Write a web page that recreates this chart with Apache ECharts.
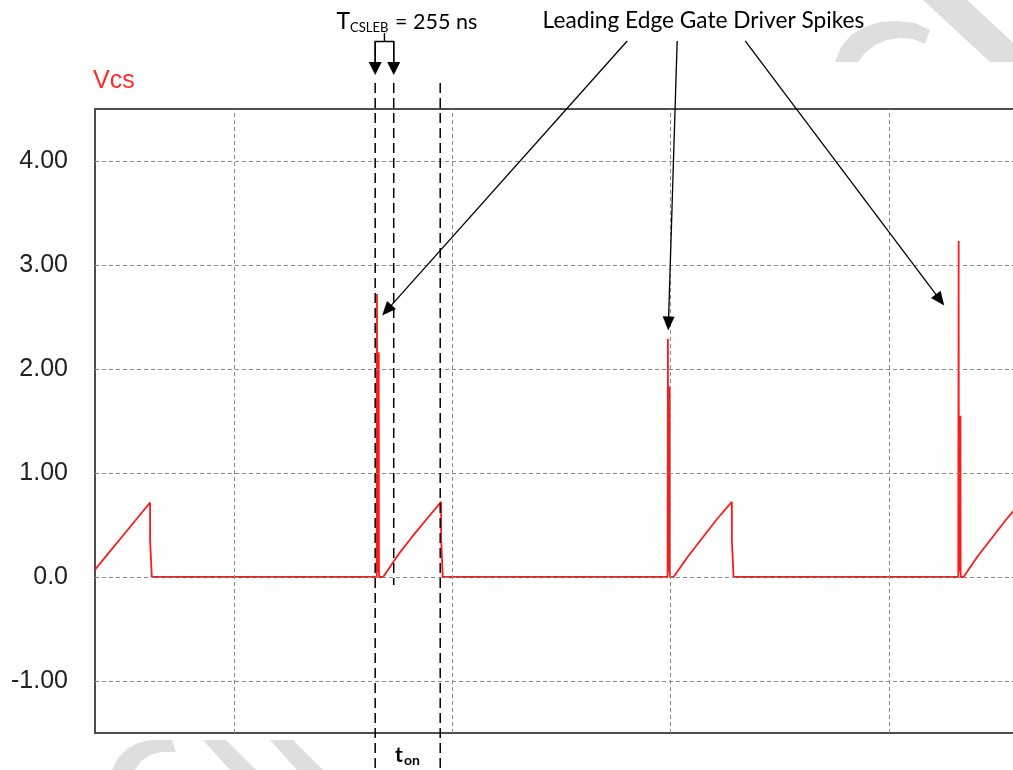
<!DOCTYPE html>
<html>
<head>
<meta charset="utf-8">
<title>Vcs leading edge blanking</title>
<script src="https://cdn.jsdelivr.net/npm/echarts@6/dist/echarts.min.js"></script>
<style>
  html, body { margin: 0; padding: 0; background: #fff; }
  #chart { width: 1013px; height: 770px; }
</style>
</head>
<body>
<div id="chart"></div>
<script>
// Current-sense voltage Vcs, time in µs (3 µs per grid division, 4 µs switching period)

// Cycle entering from the left edge: end of the current ramp and turn-off
const cycle0Time = [-1.913, -1.75, -1.55, -1.35, -1.156, -1.156, -1.132, -1.132];
const cycle0Vcs  = [0.07, 0.21, 0.38, 0.55, 0.715, 0.355, 0.355, 0];

// Cycle 1: gate-drive spike at turn-on, then the ramp over t_on
const cycle1Time = [1.960, 1.963, 1.966, 1.969, 1.972, 1.975, 1.978, 1.981, 1.984, 1.987, 1.990, 1.993,
                    2.048, 2.25, 2.45, 2.65, 2.845, 2.845, 2.867, 2.867];
const cycle1Vcs  = [0, 2.72, 0.05, 2.16, 0.05, 2.16, 0.05, 2.16, 0.05, 2.16, 0.05, 0,
                    0, 0.21, 0.39, 0.56, 0.723, 0.355, 0.355, 0];

// Cycle 2
const cycle2Time = [5.958, 5.962, 5.965, 5.968, 5.971, 5.974, 5.977, 5.980, 5.983, 5.986, 5.989, 5.992,
                    6.039, 6.24, 6.44, 6.64, 6.841, 6.841, 6.864, 6.864];
const cycle2Vcs  = [0, 2.29, 0.05, 1.83, 0.05, 1.83, 0.05, 1.83, 0.05, 1.83, 0.05, 0,
                    0, 0.20, 0.38, 0.56, 0.723, 0.355, 0.355, 0];

// Cycle 3, running off the right edge
const cycle3Time = [9.953, 9.958, 9.961, 9.964, 9.967, 9.970, 9.973, 9.976, 9.979, 9.982, 9.985, 9.988,
                    10.025, 10.22, 10.42, 10.62, 10.82, 10.98];
const cycle3Vcs  = [0, 3.23, 0.05, 1.55, 0.05, 1.55, 0.05, 1.55, 0.05, 1.55, 0.05, 0,
                    0, 0.20, 0.38, 0.56, 0.72, 0.83];

// Axis ticks
const yTickValues = [-1, 0, 1, 2, 3, 4];
const yTickLabels = ['-1.00', '0.0', '1.00', '2.00', '3.00', '4.00'];
const xGridTimes  = [0, 3, 6, 9];
const timeRange   = [-1.913, 10.98];
const vcsRange    = [-1.5, 4.5];

// Timing markers (µs)
const tBlankStart = 1.938;          // start of the blanking window / t_on
const tBlankEnd   = 1.938 + 0.255;  // T_CSLEB = 255 ns
const tOnEnd      = 2.832;

const trace = [];
[[cycle0Time, cycle0Vcs], [cycle1Time, cycle1Vcs], [cycle2Time, cycle2Vcs], [cycle3Time, cycle3Vcs]]
  .forEach(([ts, vs]) => ts.forEach((t, i) => trace.push([t, vs[i]])));

const labelFor = v => {
  const k = yTickValues.findIndex(t => Math.abs(t - v) < 1e-9);
  return k >= 0 ? yTickLabels[k] : '';
};

const dashedMarker = (x, yTop, yBottom) => ({
  type: 'line',
  data: [[x, yTop], [x, yBottom]],
  clip: false,
  showSymbol: false,
  symbol: 'none',
  silent: true,
  z: 6,
  lineStyle: { color: '#000', width: 1.5, type: [10, 5] },
  animation: false
});

const chart = echarts.init(document.getElementById('chart'), null, { renderer: 'canvas' });

const option = {
  animation: false,
  backgroundColor: '#fff',
  grid: {
    left: 95, right: -20, top: 109, bottom: 37,
    outerBoundsMode: 'none',
    show: true, backgroundColor: '#fff',
    borderColor: '#4d4d4d', borderWidth: 2
  },
  xAxis: {
    type: 'value', min: timeRange[0], max: timeRange[1],
    show: false
  },
  yAxis: {
    type: 'value', min: vcsRange[0], max: vcsRange[1], interval: 0.5,
    axisLine: { show: false },
    axisTick: { show: false },
    splitLine: { show: false },
    axisLabel: {
      margin: 27, fontSize: 25, color: '#222', fontFamily: 'Liberation Sans',
      formatter: v => labelFor(v)
    }
  },
  series: [
    {
      // dotted reference grid
      type: 'line', data: [], z: 1, silent: true, animation: false,
      markLine: {
        silent: true, symbol: 'none', animation: false,
        label: { show: false },
        lineStyle: { color: '#8a8a8a', width: 1, type: [4, 3] },
        data: [
          ...xGridTimes.map(t => ({ xAxis: t })),
          ...yTickValues.map(v => ({ yAxis: v }))
        ]
      }
    },
    {
      name: 'Vcs', type: 'line', data: trace, z: 3,
      showSymbol: false, symbol: 'none', animation: false,
      lineStyle: { color: '#ff1a1a', width: 1.8 }
    },
    dashedMarker(tBlankStart, 4.75, -1.95),
    dashedMarker(tBlankEnd, 4.75, -0.077),
    dashedMarker(tOnEnd, 4.75, -1.95)
  ]
};
chart.setOption(option);

// ---- annotations -------------------------------------------------------
const P = (x, y) => chart.convertToPixel({ gridIndex: 0 }, [x, y]);
const INK = '#000';
const LABEL_FONT = 'Lato, "Open Sans", sans-serif';

function arrow(s, t, head, half, width) {
  const dx = t[0] - s[0], dy = t[1] - s[1];
  const L = Math.hypot(dx, dy), ux = dx / L, uy = dy / L;
  const bx = t[0] - ux * head, by = t[1] - uy * head;
  return [
    { type: 'line', z: 20, silent: true,
      shape: { x1: s[0], y1: s[1], x2: bx + ux * 2, y2: by + uy * 2 },
      style: { stroke: INK, lineWidth: width } },
    { type: 'polygon', z: 20, silent: true,
      shape: { points: [t, [bx - uy * half, by + ux * half], [bx + uy * half, by - ux * half]] },
      style: { fill: INK } }
  ];
}

// spike call-outs: from under the caption down to each spike (data units)
const calloutFrom = [[5.402, 5.154], [6.089, 5.154], [7.024, 5.154]];
const calloutTo   = [[2.034, 2.514], [5.966, 2.37], [9.76, 2.61]];

const elements = [];

// light watermark strokes showing around the plot
const wm = { fill: '#dedede' };
[
  [[923, 0], [967, 0], [1034, 62], [990, 62]],
  [[835, 62], [841, 47], [851, 35], [865, 27], [880, 22], [897, 21], [915, 23], [930, 30],
   [925, 44], [913, 39], [900, 38], [887, 40], [875, 45], [865, 53], [858, 62]],
  [[112, 770], [118, 758], [127, 749], [138, 743], [150, 740], [172, 740],
   [176, 752], [162, 752], [150, 755], [141, 761], [135, 770]],
  [[203, 740], [226, 740], [256, 770], [230, 770]],
  [[270, 740], [293, 740], [323, 770], [297, 770]]
].forEach(pts => elements.push({ type: 'polygon', z: -5, silent: true, shape: { points: pts }, style: wm }));

calloutFrom.forEach((f, i) => {
  elements.push(...arrow(P(f[0], f[1]), P(calloutTo[i][0], calloutTo[i][1]), 14, 6, 1.3));
});

// T_CSLEB bracket over the blanking window
const xb1 = P(tBlankStart, 0)[0], xb2 = P(tBlankEnd, 0)[0], xm = (xb1 + xb2) / 2;
elements.push(
  { type: 'polyline', z: 20, silent: true, shape: { points: [[xm, 33], [xm, 41.5]] }, style: { stroke: INK, lineWidth: 1.4, fill: null } },
  { type: 'polyline', z: 20, silent: true, shape: { points: [[xb1, 63], [xb1, 41.5], [xb2, 41.5], [xb2, 63]] }, style: { stroke: INK, lineWidth: 1.4, fill: null } },
  ...arrow([xb1, 41.5], [xb1, 75], 13, 6.5, 1.4),
  ...arrow([xb2, 41.5], [xb2, 75], 13, 6.5, 1.4)
);

// channel name above the plot's top-left corner
const corner = P(timeRange[0], vcsRange[1]);
elements.push(
  { type: 'text', z: 20, silent: true,
    style: { text: 'Vcs', x: corner[0] - 2, y: corner[1] - 28, align: 'left', verticalAlign: 'middle',
             font: '25px "Liberation Sans", Arial, sans-serif', fill: '#ff2a2a' } }
);

// captions
elements.push(
  { type: 'text', z: 20, silent: true,
    style: { text: 'Leading Edge Gate Driver Spikes', x: 703.5, y: 21, align: 'center', verticalAlign: 'middle',
             font: '22.7px ' + LABEL_FONT, fill: INK } },
  { type: 'text', z: 20, silent: true,
    style: { text: 'T', x: 350, y: 22, align: 'right', verticalAlign: 'middle', font: '23px ' + LABEL_FONT, fill: INK } },
  { type: 'text', z: 20, silent: true,
    style: { text: 'CSLEB', x: 350, y: 28, align: 'left', verticalAlign: 'middle', font: '13px ' + LABEL_FONT, fill: INK } },
  { type: 'text', z: 20, silent: true,
    style: { text: '= 255 ns', x: 395, y: 22, align: 'left', verticalAlign: 'middle', font: '21.5px ' + LABEL_FONT, fill: INK } },
  { type: 'text', z: 20, silent: true,
    style: { text: 't', x: 395, y: 755, align: 'left', verticalAlign: 'middle', font: 'bold 21px ' + LABEL_FONT, fill: INK } },
  { type: 'text', z: 20, silent: true,
    style: { text: 'on', x: 404, y: 760, align: 'left', verticalAlign: 'middle', font: 'bold 14px ' + LABEL_FONT, fill: INK } }
);

chart.setOption({ graphic: { elements } });
</script>
</body>
</html>
